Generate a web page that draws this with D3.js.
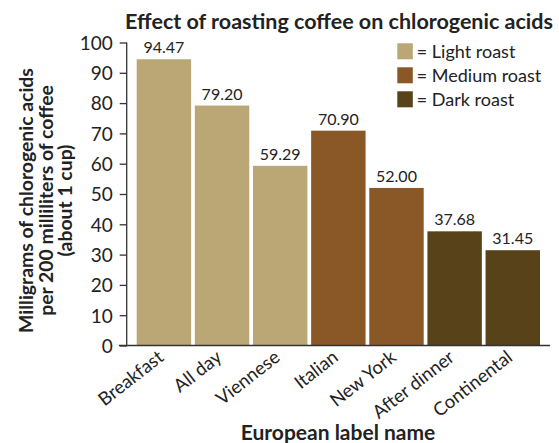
<!DOCTYPE html>
<html>
<head>
<meta charset="utf-8">
<script src="https://cdn.jsdelivr.net/npm/d3@7"></script>
<style>
  body { margin: 0; background: #fff; }
  text { font-family: Lato, "Open Sans", sans-serif; fill: #222; }
</style>
</head>
<body>
<script>
var labels = ["Breakfast", "All day", "Viennese", "Italian", "New York", "After dinner", "Continental"];
var values = [94.47, 79.20, 59.29, 70.90, 52.00, 37.68, 31.45];
var roasts = ["Light", "Light", "Light", "Medium", "Medium", "Dark", "Dark"];
var roastNames = ["Light", "Medium", "Dark"];
var roastColors = ["#bba776", "#8a5826", "#58421a"];
var yTicks = [0, 10, 20, 30, 40, 50, 60, 70, 80, 90, 100];

var svg = d3.select("body").append("svg")
    .attr("width", 559)
    .attr("height", 443);

var x = d3.scaleBand()
    .domain(labels)
    .range([134.85, 541.85])
    .paddingInner(0.064)
    .paddingOuter(0.032);

var y = d3.scaleLinear()
    .domain([0, 100])
    .range([345.5, 42.5]);

var color = d3.scaleOrdinal()
    .domain(roastNames)
    .range(roastColors);

// bars
svg.selectAll("rect.bar")
    .data(values)
  .enter().append("rect")
    .attr("class", "bar")
    .attr("x", function(d, i) { return x(labels[i]); })
    .attr("y", function(d) { return y(d); })
    .attr("width", x.bandwidth())
    .attr("height", function(d) { return y(0) - y(d); })
    .attr("fill", function(d, i) { return color(roasts[i]); });

// value labels
svg.selectAll("text.val")
    .data(values)
  .enter().append("text")
    .attr("class", "val")
    .attr("x", function(d, i) { return x(labels[i]) + x.bandwidth() / 2; })
    .attr("y", function(d) { return y(d) - 6; })
    .attr("text-anchor", "middle")
    .style("font-size", "16px")
    .text(function(d) { return d.toFixed(2); });

// y axis
var yAxis = svg.append("g")
    .attr("transform", "translate(126.7,0)")
    .call(d3.axisLeft(y).tickValues(yTicks).tickSize(7).tickPadding(7));
yAxis.selectAll("text").style("font-size", "19px").attr("dy", "0.36em");
yAxis.selectAll("line, path").attr("stroke", "#333").attr("stroke-width", 1.3);
yAxis.select("path").attr("d", "M0," + y(100) + "V" + y(0));

// x axis line
svg.append("line")
    .attr("x1", 119).attr("x2", 550)
    .attr("y1", y(0)).attr("y2", y(0))
    .attr("stroke", "#333").attr("stroke-width", 1.3);

// x labels
svg.selectAll("text.xl")
    .data(labels)
  .enter().append("text")
    .attr("class", "xl")
    .attr("text-anchor", "end")
    .attr("transform", function(d) {
      return "translate(" + (x(d) + x.bandwidth() / 2 + 1) + "," + (y(0) + 14) + ") rotate(-38)";
    })
    .style("font-size", "18.5px")
    .text(function(d) { return d; });

// title
svg.append("text")
    .attr("x", 339).attr("y", 29)
    .attr("text-anchor", "middle")
    .style("font-size", "21.5px").style("font-weight", "bold")
    .text("Effect of roasting coffee on chlorogenic acids");

svg.append("text")
    .attr("x", 338).attr("y", 440)
    .attr("text-anchor", "middle")
    .style("font-size", "21px").style("font-weight", "bold")
    .text("European label name");

var yTitle = ["Milligrams of chlorogenic acids", "per 200 milliliters of coffee", "(about 1 cup)"];
svg.append("g")
    .attr("transform", "translate(0,200.5) rotate(-90)")
  .selectAll("text")
    .data(yTitle)
  .enter().append("text")
    .attr("x", 0)
    .attr("y", function(d, i) { return 33 + i * 19.5; })
    .attr("text-anchor", "middle")
    .style("font-size", "19.4px").style("font-weight", "bold")
    .text(function(d) { return d; });

// legend
var legend = svg.selectAll("g.leg")
    .data(roastNames)
  .enter().append("g")
    .attr("class", "leg")
    .attr("transform", function(d, i) { return "translate(397.3," + (43.3 + i * 24) + ")"; });
legend.append("rect")
    .attr("width", 15.5).attr("height", 16)
    .attr("fill", function(d) { return color(d); });
legend.append("text")
    .attr("x", 19.5).attr("y", 14.5)
    .style("font-size", "18px")
    .text(function(d) { return "= " + d + " roast"; });
</script>
</body>
</html>
